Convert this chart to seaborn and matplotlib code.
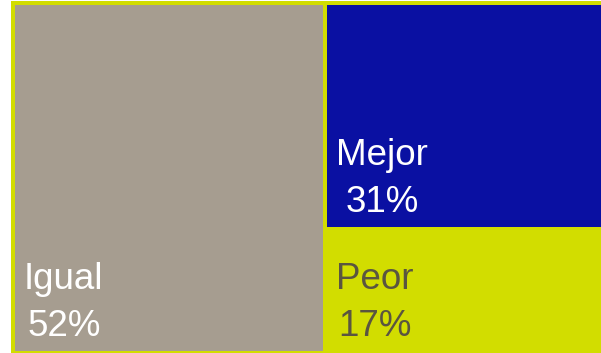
import matplotlib
matplotlib.use("Agg")
import matplotlib.pyplot as plt
import seaborn as sns

# Share of answers per category
labels = ["Igual", "Mejor", "Peor"]
shares = [52, 31, 17]
colors = ["#A69D90", "#0A10A2", "#D2DD00"]
text_colors = ["white", "white", "#5A5540"]
border = "#D2DD00"

sns.set_theme(style="white")
plt.rcParams["font.family"] = ["Liberation Sans", "DejaVu Sans"]

W, H, DPI = 601, 353, 100
fig = plt.figure(figsize=(W / DPI, H / DPI), dpi=DPI)
fig.patch.set_facecolor("white")
ax = fig.add_axes([13 / W, 0 / H, 600 / W, 350 / H])
ax.set_xlim(0, 1)
ax.set_ylim(0, 1)
ax.axis("off")

# Slice-and-dice treemap: first category takes a full-height column,
# the remaining ones are stacked in the second column.
total = sum(shares)
first_w = shares[0] / total
rest = sum(shares[1:])
xs, ws, bottoms, hs = [0.0], [first_w], [0.0], [1.0]
top = 1.0
for s in shares[1:]:
    h = s / rest
    xs.append(first_w)
    ws.append(1 - first_w)
    bottoms.append(top - h)
    hs.append(h)
    top -= h

ax.bar(xs, hs, width=ws, bottom=bottoms, align="edge", color=colors,
       edgecolor=border, linewidth=4 * 72 / DPI, clip_on=False)

for x0, y0, lab, s, tc in zip(xs, bottoms, labels, shares, text_colors):
    ax.annotate(f"{lab}\n{s}%", xy=(x0, y0), xytext=(11, 9),
                textcoords="offset pixels", ha="left", va="bottom",
                multialignment="center", linespacing=1.45,
                fontsize=26.5, color=tc)

fig.savefig("out.png", dpi=DPI, facecolor="white")
